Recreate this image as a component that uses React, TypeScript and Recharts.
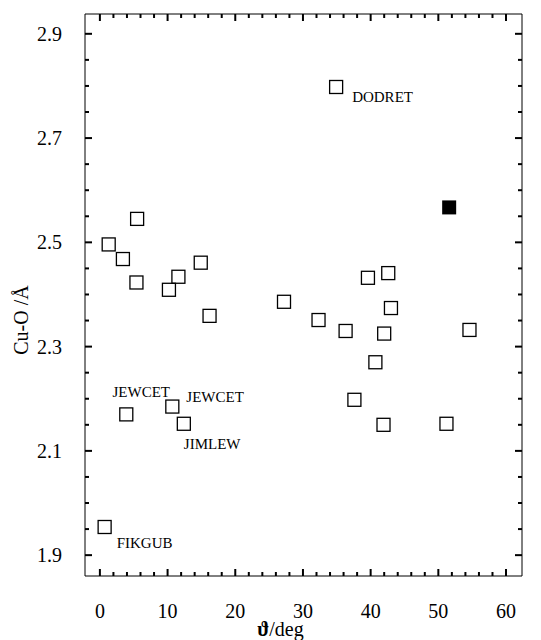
import { ScatterChart, Scatter, XAxis, YAxis, Label } from "recharts";

// open squares: torsion angle vs Cu-O distance
const openPoints = [
  { theta: 0.7, cuo: 1.954 },
  { theta: 1.3, cuo: 2.496 },
  { theta: 3.4, cuo: 2.468 },
  { theta: 3.9, cuo: 2.17 },
  { theta: 5.5, cuo: 2.545 },
  { theta: 5.4, cuo: 2.423 },
  { theta: 10.2, cuo: 2.409 },
  { theta: 10.7, cuo: 2.185 },
  { theta: 11.6, cuo: 2.434 },
  { theta: 12.4, cuo: 2.152 },
  { theta: 14.9, cuo: 2.461 },
  { theta: 16.2, cuo: 2.359 },
  { theta: 27.2, cuo: 2.386 },
  { theta: 32.3, cuo: 2.351 },
  { theta: 34.9, cuo: 2.798 },
  { theta: 36.3, cuo: 2.33 },
  { theta: 37.6, cuo: 2.198 },
  { theta: 39.6, cuo: 2.432 },
  { theta: 40.7, cuo: 2.27 },
  { theta: 41.9, cuo: 2.15 },
  { theta: 42.0, cuo: 2.325 },
  { theta: 42.6, cuo: 2.441 },
  { theta: 43.0, cuo: 2.374 },
  { theta: 51.2, cuo: 2.152 },
  { theta: 54.6, cuo: 2.332 },
];

const filledPoints = [{ theta: 51.6, cuo: 2.567 }];

// refcodes written next to some of the points
const refLabels = [
  { id: "dodret", text: "DODRET", theta: 34.9, cuo: 2.798 },
  { id: "jewcet1", text: "JEWCET", theta: 3.9, cuo: 2.17 },
  { id: "jewcet2", text: "JEWCET", theta: 10.7, cuo: 2.185 },
  { id: "jimlew", text: "JIMLEW", theta: 12.4, cuo: 2.152 },
  { id: "fikgub", text: "FIKGUB", theta: 0.7, cuo: 1.954 },
];

const labelPos: Record<string, { dx: number; dy: number; anchor: string }> = {
  dodret: { dx: 16, dy: 15, anchor: "start" },
  jewcet1: { dx: 15, dy: -17, anchor: "middle" },
  jewcet2: { dx: 14, dy: -5, anchor: "start" },
  jimlew: { dx: 0, dy: 25, anchor: "start" },
  fikgub: { dx: 12, dy: 21, anchor: "start" },
};

const xTicks = [0, 2, 4, 6, 8, 10, 12, 14, 16, 18, 20, 22, 24, 26, 28, 30, 32, 34, 36, 38, 40, 42, 44, 46, 48, 50, 52, 54, 56, 58, 60];
const yTicks = [1.9, 1.95, 2.0, 2.05, 2.1, 2.15, 2.2, 2.25, 2.3, 2.35, 2.4, 2.45, 2.5, 2.55, 2.6, 2.65, 2.7, 2.75, 2.8, 2.85, 2.9];
const yMajor = [1.9, 2.1, 2.3, 2.5, 2.7, 2.9];

const font = "'Liberation Serif', 'DejaVu Serif', serif";
const ink = "#000";
const xDomain = [-2.2, 62.36];
const yDomain = [1.86, 2.938];

const minorLen = 4;
const majorLen = 7;
const tickWidth = 2;

const isYMajor = (v: number) => yMajor.some((m) => Math.abs(m - v) < 1e-6);

function XTick(props: any) {
  const { x, y, payload, side } = props;
  const v = payload.value;
  const major = v % 10 === 0;
  const len = major ? majorLen : minorLen;
  const dy = side === "bottom" ? -len : len;
  return (
    <g>
      <path d={`M${x},${y}L${x},${y + dy}`} stroke={ink} strokeWidth={tickWidth} />
      {side === "bottom" && major && (
        <text x={x} y={y + 42} textAnchor="middle" fontFamily={font} fontSize={20} fill={ink}>
          {v}
        </text>
      )}
    </g>
  );
}

function YTick(props: any) {
  const { x, y, payload, side } = props;
  const v = payload.value;
  const major = isYMajor(v);
  const len = major ? majorLen : minorLen;
  const dx = side === "left" ? len : -len;
  return (
    <g>
      <path d={`M${x},${y}L${x + dx},${y}`} stroke={ink} strokeWidth={tickWidth} />
      {side === "left" && major && (
        <text x={x - 23} y={y + 7} textAnchor="end" fontFamily={font} fontSize={20} fill={ink}>
          {v.toFixed(1)}
        </text>
      )}
    </g>
  );
}

const OpenSquare = (props: any) => (
  <rect x={props.cx - 6.5} y={props.cy - 6.5} width={13} height={13} fill="none" stroke={ink} strokeWidth={1.3} />
);

const FilledSquare = (props: any) => (
  <rect x={props.cx - 7} y={props.cy - 7} width={14} height={14} fill={ink} />
);

const RefText = (props: any) => {
  const p = labelPos[props.payload.id];
  return (
    <text x={props.cx + p.dx} y={props.cy + p.dy} textAnchor={p.anchor} fontFamily={font} fontSize={15} fill={ink}>
      {props.payload.text}
    </text>
  );
};

export default function App() {
  return (
    <div style={{ position: "absolute", left: 0, top: 0 }}>
      <ScatterChart width={541} height={640} margin={{ top: 13, right: 18, left: 25, bottom: 34 }}>
        <XAxis
          xAxisId="b"
          dataKey="theta"
          type="number"
          domain={xDomain}
          allowDataOverflow
          ticks={xTicks}
          interval={0}
          height={30}
          tickSize={0}
          tickMargin={0}
          tickLine={false}
          stroke={ink}
          tick={(p: any) => <XTick {...p} side="bottom" />}
        >
          <Label
            content={({ viewBox }: any) => (
              <text
                x={viewBox.x + viewBox.width / 2 - 23}
                y={viewBox.y + 60}
                textAnchor="middle"
                fontFamily={font}
                fontSize={20}
                fill={ink}
              >
                <tspan fontWeight="bold">ϑ</tspan>/deg
              </text>
            )}
          />
        </XAxis>
        <XAxis
          xAxisId="t"
          orientation="top"
          dataKey="theta"
          type="number"
          domain={xDomain}
          allowDataOverflow
          ticks={xTicks}
          interval={0}
          height={1}
          tickSize={0}
          tickMargin={0}
          tickLine={false}
          stroke={ink}
          tick={(p: any) => <XTick {...p} side="top" />}
        />
        <YAxis
          yAxisId="l"
          dataKey="cuo"
          type="number"
          domain={yDomain}
          allowDataOverflow
          ticks={yTicks}
          interval={0}
          width={60}
          tickSize={0}
          tickMargin={0}
          tickLine={false}
          stroke={ink}
          tick={(p: any) => <YTick {...p} side="left" />}
        >
          <Label
            content={({ viewBox }: any) => (
              <text
                transform={`translate(${viewBox.x + 3}, ${viewBox.y + viewBox.height / 2 + 25}) rotate(-90)`}
                textAnchor="middle"
                fontFamily={font}
                fontSize={20}
                fill={ink}
              >
                Cu-O /Å
              </text>
            )}
          />
        </YAxis>
        <YAxis
          yAxisId="r"
          orientation="right"
          dataKey="cuo"
          type="number"
          domain={yDomain}
          allowDataOverflow
          ticks={yTicks}
          interval={0}
          width={1}
          tickSize={0}
          tickMargin={0}
          tickLine={false}
          stroke={ink}
          tick={(p: any) => <YTick {...p} side="right" />}
        />
        <Scatter xAxisId="b" yAxisId="l" data={openPoints} shape={OpenSquare} isAnimationActive={false} />
        <Scatter xAxisId="b" yAxisId="l" data={filledPoints} shape={FilledSquare} isAnimationActive={false} />
        <Scatter xAxisId="t" yAxisId="r" data={refLabels} shape={RefText} isAnimationActive={false} />
      </ScatterChart>
    </div>
  );
}
